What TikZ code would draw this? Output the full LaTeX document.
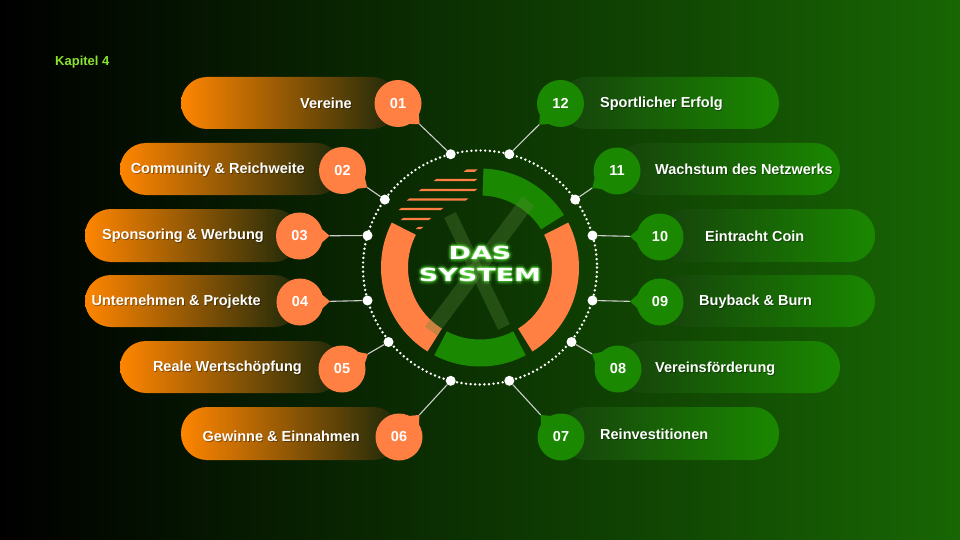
\documentclass[tikz,border=0pt]{standalone}
\usepackage{fontspec}
\setmainfont{Liberation Sans}
\newfontfamily\widefont[FakeStretch=1.5]{DejaVu Sans}
\usetikzlibrary{calc}

\definecolor{bgG}{RGB}{24,102,4}
\definecolor{org}{RGB}{255,128,66}
\definecolor{orgP}{RGB}{255,133,0}
\definecolor{orgM}{RGB}{120,78,18}
\definecolor{orgE}{RGB}{28,40,10}
\definecolor{grn}{RGB}{26,136,0}
\definecolor{grnS}{RGB}{22,66,12}
\definecolor{grnM}{RGB}{36,100,24}
\definecolor{kap}{RGB}{140,226,50}
\definecolor{glow}{RGB}{100,255,70}
\definecolor{xcol}{RGB}{90,140,60}
\definecolor{linkc}{RGB}{205,205,205}

\tikzset{
  pilltxt/.style={text=white, font=\bfseries\fontsize{14.5}{16}\selectfont, inner sep=0pt},
  shtxt/.style={text=black, opacity=0.35, font=\bfseries\fontsize{14.5}{16}\selectfont, inner sep=0pt},
  badge/.style={circle, minimum size=47pt, inner sep=0pt, text=white, font=\bfseries\fontsize{14.5}{16}\selectfont},
  cdot/.style={circle, fill=white, minimum size=10pt, inner sep=0pt},
  link/.style={draw=linkc, line width=1.1pt},
  xstroke/.style={draw=xcol, opacity=0.32, line width=13pt},
  bigtxt/.style={font=\widefont\bfseries\fontsize{18}{20}\selectfont, inner sep=0pt},
}

\newcommand\lpill[4]{% x1 x2 y1 y2
  \shade[left color=orgP, middle color=orgM, right color=orgE, rounded corners=26pt] (#1,#3) rectangle (#2,#4);}
\newcommand\rpill[4]{%
  \shade[left color=grnS, middle color=grnM, right color=grn, rounded corners=26pt] (#1,#3) rectangle (#2,#4);}
\newcommand\ptext[5]{% name anchor x y text
  \node[shtxt, anchor=#2] (#1s) at (#3+0.9,#4+0.9) {#5};
  \node[pilltxt, anchor=#2] (#1) at (#3,#4) {#5};}
\newcommand\ringseg[3]{%
  \fill[#3] plot[domain=#1:#2, samples=50] ({480+99*cos(\x)},{267.5-99*sin(\x)})
    -- plot[domain=#2:#1, samples=50] ({480+72*cos(\x)},{267.5-72*sin(\x)}) -- cycle;}
\newcommand\stripe[3]{%
  \fill[org] (#1+1.5,#3-1.2) -- (#2+1.5,#3-1.2) -- (#2-1.5,#3+1.2) -- (#1-1.5,#3+1.2) -- cycle;}
\newcommand\mktail[3]{% badge dot color
  \coordinate (#1t) at ($(#1)!30pt!(#2)$);
  \fill[#3] ($(#1)!21pt!30:(#2)$) -- (#1t) -- ($(#1)!21pt!-30:(#2)$) -- cycle;
  \draw[link] (#1t) -- (#2);}

\begin{document}
\begin{tikzpicture}[x=1pt, y=-1pt]
\useasboundingbox (0,0) rectangle (960,540);
\shade[left color=black, right color=bgG] (0,0) rectangle (960,540);

\node[anchor=west, text=kap, font=\bfseries\fontsize{13}{15}\selectfont, inner sep=0pt] (kap) at (55,62.5) {Kapitel 4};

% pills left
\lpill{181}{398}{77}{129}
\lpill{120}{342}{143}{195}
\lpill{85}{300}{209}{262}
\lpill{85}{300}{275}{327}
\lpill{120}{342}{341}{393}
\lpill{181}{399}{407}{460}
% pills right
\rpill{560}{779}{77}{129}
\rpill{617}{840}{143}{195}
\rpill{659}{875}{209}{262}
\rpill{659}{875}{275}{327}
\rpill{617}{840}{341}{393}
\rpill{560}{779}{407}{460}

% texts
\ptext{t01}{east}{352}{103.5}{Vereine}
\ptext{t02}{east}{305}{170}{Community \& Reichweite}
\ptext{t03}{east}{264}{236}{Sponsoring \& Werbung}
\ptext{t04}{east}{261}{302}{Unternehmen \& Projekte}
\ptext{t05}{east}{302}{368}{Reale Wertschöpfung}
\ptext{t06}{east}{360}{436}{Gewinne \& Einnahmen}
\ptext{t12}{west}{600}{104}{Sportlicher Erfolg}
\ptext{t11}{west}{655}{169.5}{Wachstum des Netzwerks}
\ptext{t10}{west}{705}{236}{Eintracht Coin}
\ptext{t09}{west}{699}{302}{Buyback \& Burn}
\ptext{t08}{west}{655}{369}{Vereinsförderung}
\ptext{t07}{west}{600}{434.5}{Reinvestitionen}

% dotted circle
\draw[white, line width=2.7pt, dash pattern=on 0pt off 4.6pt, line cap=round] (480,267.5) circle (117);

% ring
\ringseg{32}{88}{grn}
\ringseg{-58}{27}{org}
\ringseg{-117.5}{-62.5}{grn}
\ringseg{153}{238}{org}

% speed stripes
\stripe{465}{476}{170.7}
\stripe{435}{476}{180}
\stripe{420}{476}{190}
\stripe{408}{467}{199.5}
\stripe{400}{442}{209}
\stripe{402}{430}{219}
\stripe{417}{422}{228}

% X brush
\draw[xstroke] (450,215) -- (504,327);
\draw[xstroke, line width=15pt] (528,201) -- (431,331);

% title with glow
\foreach \a in {0,45,...,315}{
  \node[bigtxt, text=glow, opacity=0.08] (ga\a) at ($(480,253)+(\a:3.6)$) {DAS};
  \node[bigtxt, text=glow, opacity=0.08] (gb\a) at ($(480,275)+(\a:3.6)$) {SYSTEM};
  \node[bigtxt, text=glow, opacity=0.2] (gc\a) at ($(480,253)+(\a:1.7)$) {DAS};
  \node[bigtxt, text=glow, opacity=0.2] (gd\a) at ($(480,275)+(\a:1.7)$) {SYSTEM};
}
\node[bigtxt, text=white] (das) at (480,253) {DAS};
\node[bigtxt, text=white] (sys) at (480,275) {SYSTEM};

% dots
\node[cdot] (d01) at (450.7,154.2) {};
\node[cdot] (d02) at (384.8,199.6) {};
\node[cdot] (d03) at (367.5,235.5) {};
\node[cdot] (d04) at (367.5,300.5) {};
\node[cdot] (d05) at (388.5,342.0) {};
\node[cdot] (d06) at (450.7,380.8) {};
\node[cdot] (d12) at (509.3,154.2) {};
\node[cdot] (d11) at (575.2,199.6) {};
\node[cdot] (d10) at (592.5,235.5) {};
\node[cdot] (d09) at (592.5,300.5) {};
\node[cdot] (d08) at (571.5,342.0) {};
\node[cdot] (d07) at (509.3,380.8) {};

% badges
\node[badge, fill=org] (b01) at (398,103.5) {01};
\node[badge, fill=org] (b02) at (342.5,170.5) {02};
\node[badge, fill=org] (b03) at (299.5,236) {03};
\node[badge, fill=org] (b04) at (300,302) {04};
\node[badge, fill=org] (b05) at (342,369) {05};
\node[badge, fill=org] (b06) at (399,437) {06};
\node[badge, fill=grn] (b12) at (560.5,103.5) {12};
\node[badge, fill=grn] (b11) at (617,171) {11};
\node[badge, fill=grn] (b10) at (660,237) {10};
\node[badge, fill=grn] (b09) at (660,302) {09};
\node[badge, fill=grn] (b08) at (618,369) {08};
\node[badge, fill=grn] (b07) at (561,437) {07};

\mktail{b01}{d01}{org}
\mktail{b02}{d02}{org}
\mktail{b03}{d03}{org}
\mktail{b04}{d04}{org}
\mktail{b05}{d05}{org}
\mktail{b06}{d06}{org}
\mktail{b12}{d12}{grn}
\mktail{b11}{d11}{grn}
\mktail{b10}{d10}{grn}
\mktail{b09}{d09}{grn}
\mktail{b08}{d08}{grn}
\mktail{b07}{d07}{grn}
\end{tikzpicture}
\end{document}
